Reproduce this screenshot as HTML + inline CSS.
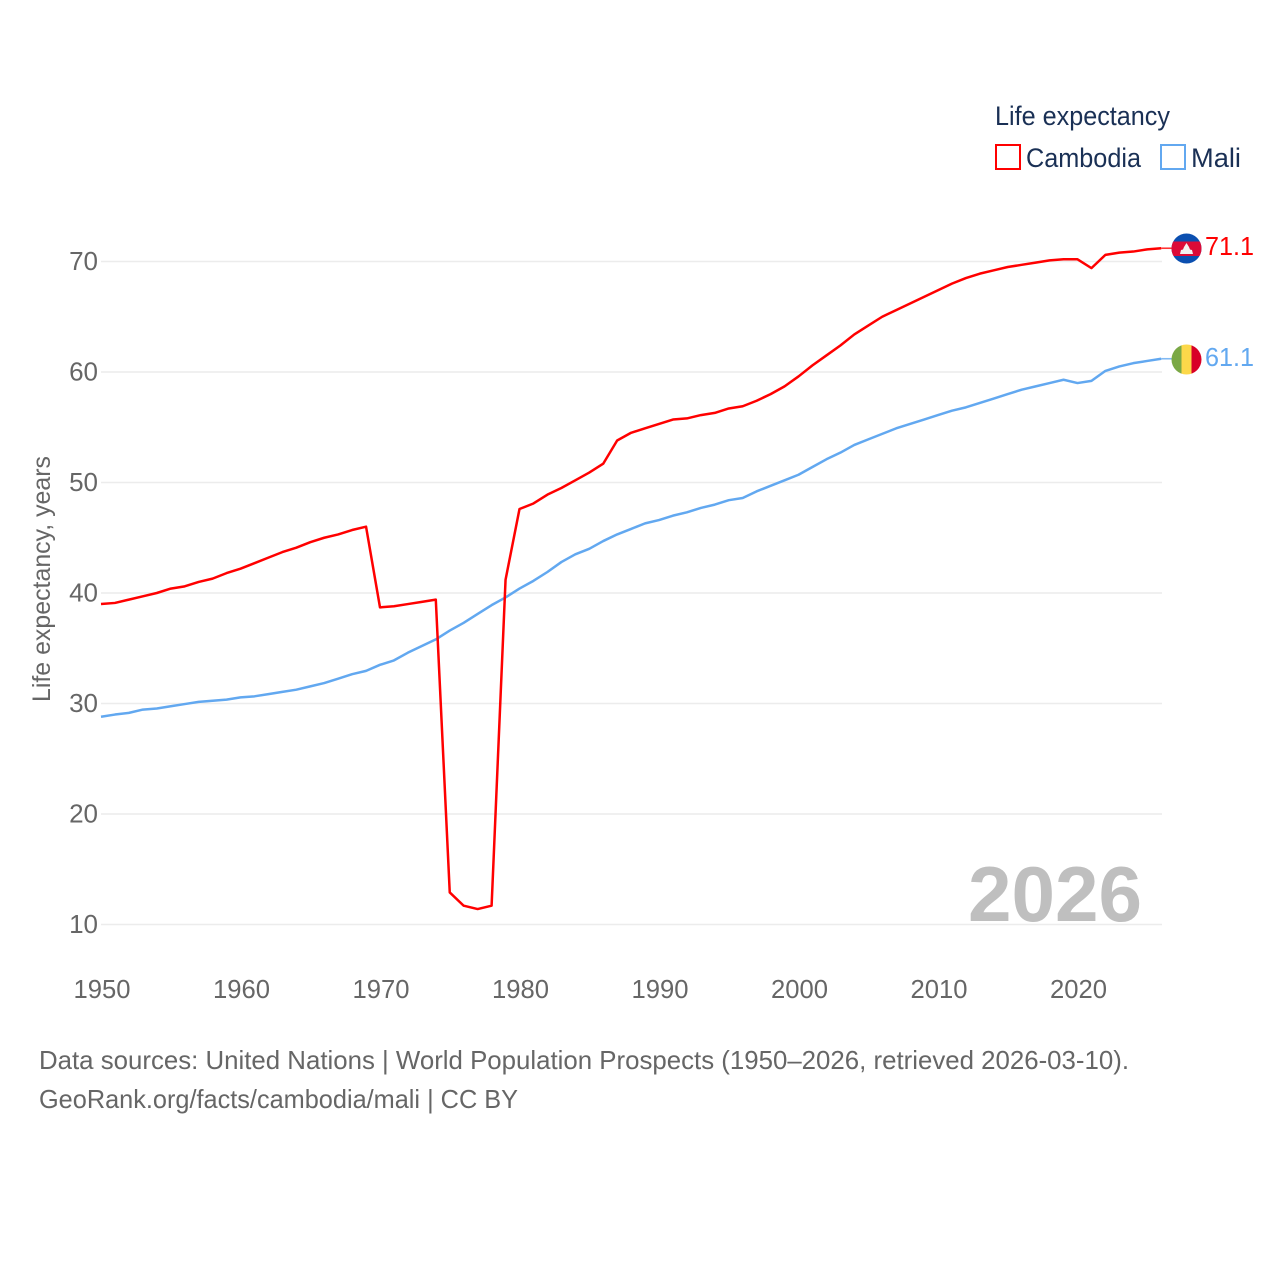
<!DOCTYPE html>
<html>
<head>
<meta charset="utf-8">
<style>
html,body{margin:0;padding:0;background:#fff;}
svg{display:block;font-family:"Liberation Sans",sans-serif;}
</style>
</head>
<body>
<svg id="chart" xmlns="http://www.w3.org/2000/svg" width="1280" height="1280" viewBox="0 0 1280 1280">
  <rect width="1280" height="1280" fill="#fff"/>
  <g id="grid"></g>
  <g id="yticks"></g>
  <g id="xticks"></g>
  <text transform="translate(50,702) rotate(-90)" font-size="25" fill="#666" textLength="246" lengthAdjust="spacingAndGlyphs">Life expectancy, years</text>
  <text x="968" y="921" font-size="78" font-weight="700" fill="#bfbfbf" textLength="174" lengthAdjust="spacingAndGlyphs">2026</text>
  <g id="series"></g>

  <g>
    <text x="995" y="125" font-size="27" fill="#1a3055" textLength="175" lengthAdjust="spacingAndGlyphs">Life expectancy</text>
    <rect x="996" y="145" width="24" height="24" fill="#fff" stroke="#ff0000" stroke-width="2"/>
    <text x="1026" y="167" font-size="27" fill="#1a3055" textLength="115" lengthAdjust="spacingAndGlyphs">Cambodia</text>
    <rect x="1161" y="145" width="24" height="24" fill="#fff" stroke="#62a8f0" stroke-width="2"/>
    <text x="1191" y="167" font-size="27" fill="#1a3055" textLength="50" lengthAdjust="spacingAndGlyphs">Mali</text>
  </g>

  <defs>
    <clipPath id="clip-kh"><circle cx="1186.5" cy="248.5" r="15"/></clipPath>
    <clipPath id="clip-ml"><circle cx="1186.5" cy="359.5" r="15"/></clipPath>
  </defs>
  <g clip-path="url(#clip-kh)">
    <rect x="1171" y="233" width="31" height="31" fill="#0b4fb0"/>
    <rect x="1171" y="241.5" width="31" height="14.5" fill="#dc0a37"/>
    <polygon points="1180,254 1181,250 1183,249.5 1184,247 1186.5,243 1189,247 1190,249.5 1192,250 1193,254" fill="#f4f0f0"/>
  </g>
  <g clip-path="url(#clip-ml)">
    <rect x="1171" y="344" width="10.5" height="31" fill="#7aa845"/>
    <rect x="1181.5" y="344" width="10" height="31" fill="#fcd84a"/>
    <rect x="1191.5" y="344" width="10.5" height="31" fill="#d80027"/>
  </g>
  <text x="1205" y="255" font-size="26" fill="#ff0000" textLength="49" lengthAdjust="spacingAndGlyphs">71.1</text>
  <text x="1205" y="366" font-size="26" fill="#62a8f0" textLength="49" lengthAdjust="spacingAndGlyphs">61.1</text>

  <text x="39" y="1069" font-size="26" fill="#666" textLength="1090" lengthAdjust="spacingAndGlyphs">Data sources: United Nations | World Population Prospects (1950–2026, retrieved 2026-03-10).</text>
  <text x="39" y="1108" font-size="26" fill="#666" textLength="479" lengthAdjust="spacingAndGlyphs">GeoRank.org/facts/cambodia/mali | CC BY</text>
</svg>
<script>
var yTickValues = [10, 20, 30, 40, 50, 60, 70];
var xTickYears = [1950, 1960, 1970, 1980, 1990, 2000, 2010, 2020];
var startYear = 1950;
var cambodiaValues = [39.0,39.1,39.4,39.7,40.0,40.4,40.6,41.0,41.3,41.8,42.2,42.7,43.2,43.7,44.1,44.6,45.0,45.3,45.7,46.0,38.7,38.8,39.0,39.2,39.4,12.9,11.7,11.4,11.7,41.2,47.6,48.1,48.9,49.5,50.2,50.9,51.7,53.8,54.5,54.9,55.3,55.7,55.8,56.1,56.3,56.7,56.9,57.4,58.0,58.7,59.6,60.6,61.5,62.4,63.4,64.2,65.0,65.6,66.2,66.8,67.4,68.0,68.5,68.9,69.2,69.5,69.7,69.9,70.1,70.2,70.2,69.4,70.6,70.8,70.9,71.1,71.2];
var maliValues = [28.8,29.0,29.15,29.45,29.55,29.75,29.95,30.15,30.25,30.35,30.55,30.65,30.85,31.05,31.25,31.55,31.85,32.25,32.65,32.95,33.5,33.9,34.6,35.2,35.8,36.6,37.3,38.1,38.9,39.6,40.4,41.1,41.9,42.8,43.5,44.0,44.7,45.3,45.8,46.3,46.6,47.0,47.3,47.7,48.0,48.4,48.6,49.2,49.7,50.2,50.7,51.4,52.1,52.7,53.4,53.9,54.4,54.9,55.3,55.7,56.1,56.5,56.8,57.2,57.6,58.0,58.4,58.7,59.0,59.3,59.0,59.2,60.1,60.5,60.8,61.0,61.2];

var NS = 'http://www.w3.org/2000/svg';
function xScale(year) { return 101 + (year - 1950) * 13.95; }
function yScale(v) { return 924.5 - (v - 10) * 11.05; }

var grid = document.getElementById('grid');
var yticks = document.getElementById('yticks');
var xticks = document.getElementById('xticks');
var series = document.getElementById('series');

yTickValues.forEach(function (v) {
  var line = document.createElementNS(NS, 'line');
  
  
  line.setAttribute('x1', 101);
  line.setAttribute('x2', 1162);
  line.setAttribute('y1', yScale(v));
  line.setAttribute('y2', yScale(v));
  line.setAttribute('stroke', '#ececec');
  line.setAttribute('stroke-width', '1.4');
  grid.appendChild(line);

  var t = document.createElementNS(NS, 'text');
  
  
  t.setAttribute('x', 98);
  t.setAttribute('y', yScale(v) + 8.5);
  t.setAttribute('text-anchor', 'end');
  t.setAttribute('font-size', '26');
  t.setAttribute('fill', '#666');
  t.textContent = v;
  yticks.appendChild(t);
});

xTickYears.forEach(function (y) {
  var t = document.createElementNS(NS, 'text');
  
  
  t.setAttribute('x', xScale(y) + 1);
  t.setAttribute('y', 998);
  t.setAttribute('text-anchor', 'middle');
  t.setAttribute('font-size', '26');
  t.setAttribute('fill', '#666');
  t.setAttribute('textLength', '57');
  t.setAttribute('lengthAdjust', 'spacingAndGlyphs');
  t.textContent = y;
  xticks.appendChild(t);
});

function drawSeries(values, color, name) {
  var pts = values.map(function (v, i) {
    return xScale(startYear + i).toFixed(2) + ',' + yScale(v).toFixed(2);
  });
  var line = document.createElementNS(NS, 'polyline');
  
  
  line.setAttribute('points', pts.join(' '));
  line.setAttribute('fill', 'none');
  line.setAttribute('stroke', color);
  line.setAttribute('stroke-width', '2.5');
  line.setAttribute('stroke-linejoin', 'round');
  series.appendChild(line);

  var last = values[values.length - 1];
  var tail = document.createElementNS(NS, 'line');
  
  
  tail.setAttribute('x1', xScale(startYear + values.length - 1));
  tail.setAttribute('x2', xScale(startYear + values.length - 1) + 11);
  tail.setAttribute('y1', yScale(last));
  tail.setAttribute('y2', yScale(last));
  tail.setAttribute('stroke', color);
  tail.setAttribute('stroke-width', '1.6');
  tail.setAttribute('stroke-opacity', '0.8');
  series.appendChild(tail);
}
drawSeries(maliValues, '#62a8f0', 'mali-line');
drawSeries(cambodiaValues, '#ff0000', 'cambodia-line');
</script>
</body>
</html>
